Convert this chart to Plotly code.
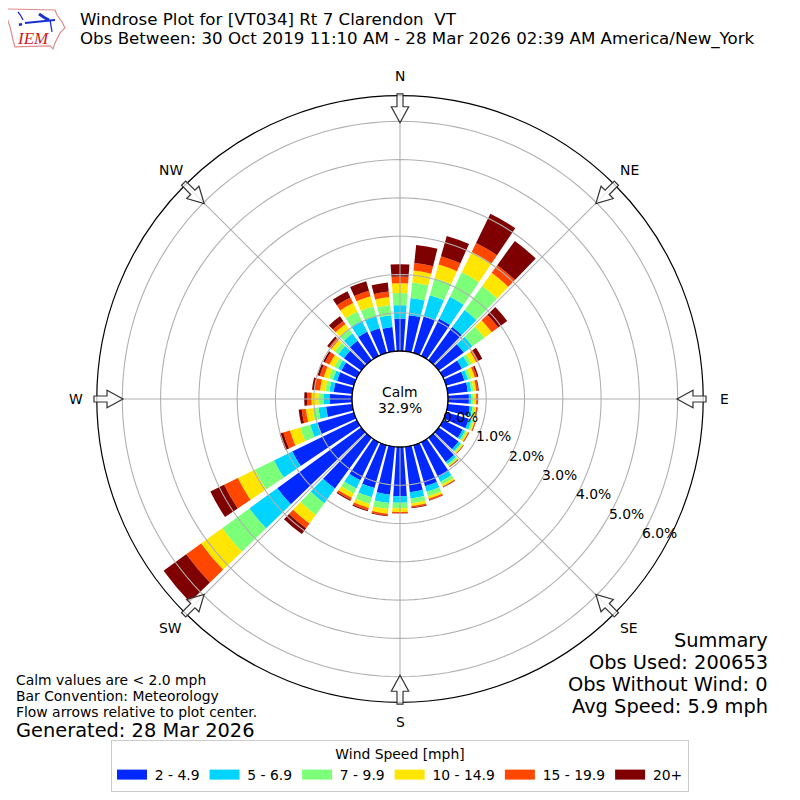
import numpy as np
import plotly.graph_objects as go

directions = list(range(0, 360, 10))
# top of each speed band in percent, stacked from the hole outwards
top_5 = [.85, .95, .99, 1.08, 1.07, .81, .55, .50, .53, .55, .58, .62, .57, .64, .78, 1.02, 1.12, 1.20,
         1.29, 1.26, 1.17, 1.11, 1.64, 2.71, 1.88, .99, .69, .59, .49, .46, .45, .56, .63, .70, .67, .64]
top_7 = [1.20, 1.40, 1.57, 1.72, 1.62, 1.09, .74, .60, .62, .62, .65, .70, .64, .71, .85, 1.15, 1.27, 1.36,
         1.46, 1.48, 1.42, 1.35, 2.11, 3.61, 2.41, 1.19, .89, .75, .60, .57, .55, .74, .86, 1.03, 1.00, .95]
top_10 = [1.52, 1.81, 2.03, 2.43, 2.40, 1.47, .83, .68, .68, .67, .70, .75, .69, .75, .90, 1.24, 1.39, 1.49,
          1.60, 1.64, 1.60, 1.50, 2.49, 4.49, 2.97, 1.46, 1.04, .88, .71, .68, .66, .86, 1.02, 1.29, 1.27, 1.22]
top_15 = [1.77, 2.12, 2.40, 3.02, 2.82, 1.71, .96, .78, .75, .74, .75, .79, .73, .79, .93, 1.29, 1.46, 1.56,
          1.70, 1.76, 1.71, 1.62, 2.77, 5.17, 3.46, 1.74, 1.22, 1.06, .85, .82, .80, .97, 1.17, 1.54, 1.54, 1.43]
top_20 = [1.95, 2.32, 2.63, 3.28, 3.07, 1.92, 1.03, .84, .80, .78, .78, .81, .75, .80, .94, 1.31, 1.50, 1.60,
          1.73, 1.81, 1.77, 1.68, 2.92, 5.65, 3.86, 1.92, 1.33, 1.18, 1.00, .93, .93, 1.04, 1.27, 1.70, 1.69, 1.57]
top_max = [2.27, 2.79, 3.18, 4.13, 3.85, 2.21, 1.14, .88, .82, .79, .79, .82, .76, .81, .95, 1.32, 1.51, 1.62,
           1.74, 1.83, 1.80, 1.71, 3.11, 6.38, 4.26, 2.02, 1.41, 1.25, 1.06, .99, .98, 1.10, 1.42, 1.88, 1.95, 1.81]

speed_labels = ["2 - 4.9", "5 - 6.9", "7 - 9.9", "10 - 14.9", "15 - 19.9", "20+"]
speed_colors = ["#0028ff", "#00d4ff", "#7cff79", "#ffe600", "#ff4700", "#7f0000"]
compass_labels = ["N", "NE", "E", "SE", "S", "SW", "W", "NW"]
compass_angles = [0, 45, 90, 135, 180, 225, 270, 315]
ring_values = [1, 2, 3, 4, 5, 6]
radial_labels = ["0.0%", "1.0%", "2.0%", "3.0%", "4.0%", "5.0%", "6.0%"]
r_max = 6.667
font = "DejaVu Sans"

# the page puts the figure 8px in from the corner, so work in window pixels
size = 784
pad = 8


def px(x, y):
    return (x - pad) / size, 1 - (y - pad) / size


def path(points, close=True):
    s = ""
    for i, (x, y) in enumerate(points):
        fx, fy = px(x, y)
        s += ("M" if i == 0 else "L") + f"{fx:.5f},{fy:.5f} "
    return s + ("Z" if close else "")


def add_text(x, y, text, size, anchor="left", color="black", style="normal", family=font):
    # annotations carry a little padding, take it back
    nudge = {"left": -2, "center": 0, "right": 2}[anchor]
    fx, fy = px(x + nudge, y + 2)
    fig.add_annotation(x=fx, y=fy, xref="paper", yref="paper", text=text, showarrow=False,
                       xanchor=anchor, yanchor="middle", align=anchor,
                       font=dict(family=family, size=size, color=color, style=style))


fig = go.Figure()

tops = [top_5, top_7, top_10, top_15, top_20, top_max]
base = np.zeros(len(directions))
for i in range(6):
    upper = np.array(tops[i])
    fig.add_trace(go.Barpolar(r=upper - base, base=base, theta=directions, width=8,
                              marker=dict(color=speed_colors[i], line=dict(width=0)),
                              showlegend=False, hoverinfo="skip"))
    base = upper

# grid sits on top of the bars in the original
circle = list(range(0, 361, 2))
for v in ring_values:
    fig.add_trace(go.Scatterpolar(r=[v] * len(circle), theta=circle, mode="lines",
                                  line=dict(color="#b0b0b0", width=1.1), showlegend=False, hoverinfo="skip"))
for a in compass_angles:
    fig.add_trace(go.Scatterpolar(r=[0, r_max], theta=[a, a], mode="lines",
                                  line=dict(color="#b0b0b0", width=1.1), showlegend=False, hoverinfo="skip"))
fig.add_trace(go.Scatterpolar(r=[0] * len(circle), theta=circle, mode="lines",
                              line=dict(color="black", width=1.3), showlegend=False, hoverinfo="skip"))

# legend entries only, thin space opens the gap after the swatch
for i in range(6):
    fig.add_trace(go.Scatterpolar(r=[None], theta=[None], mode="lines", name="\u2009" + speed_labels[i],
                                  line=dict(color=speed_colors[i], width=10)))

dom_x0, dom_y1 = px(96, 96)
dom_x1, dom_y0 = px(704, 704)
fig.update_layout(
    width=size, height=size, margin=dict(l=0, r=0, t=0, b=0), paper_bgcolor="white",
    font=dict(family=font, size=13.9, color="black"),
    polar=dict(
        domain=dict(x=[dom_x0, dom_x1], y=[dom_y0, dom_y1]),
        bgcolor="white", hole=0.158, barmode="overlay",
        radialaxis=dict(range=[0, r_max], visible=False, showgrid=False),
        angularaxis=dict(direction="clockwise", rotation=90, showgrid=False, showticklabels=False, ticks="",
                         linecolor="black", linewidth=1.2),
    ),
    legend=dict(orientation="h", x=px(400, 0)[0], xanchor="center", y=px(0, 742)[1], yanchor="top",
                title=dict(text="Wind Speed [mph]", side="top center", font=dict(family=font, size=13.9)),
                bordercolor="#cccccc", borderwidth=1, itemwidth=30, font=dict(family=font, size=13.9)),
)

# flow arrows, pointing at the plot center
for a, label in zip(compass_angles, compass_labels):
    t = np.radians(a)
    ux, uy = np.sin(t), -np.cos(t)
    vx, vy = -uy, ux
    outline = []
    for r, w in [(306, 3), (293, 3), (293, 8.7), (277, 0), (293, -8.7), (293, -3), (306, -3)]:
        outline.append((400 + r * ux + w * vx, 400 + r * uy + w * vy))
    fig.add_shape(type="path", xref="paper", yref="paper", path=path(outline),
                  line=dict(color="#333333", width=1.2), fillcolor="rgba(255,255,255,0.75)")
    add_text(400 + 324 * ux, 398 + 324 * uy, label, 13.9, "center")

add_text(400, 391, "Calm", 13.9, "center")
add_text(400, 407, "32.9%", 13.9, "center")
for i, label in enumerate(radial_labels):
    add_text(460 + 33.3 * i, 416 + 19.4 * i, label, 13.9, "center")

add_text(80, 18, "Windrose Plot for [VT034] Rt 7 Clarendon  VT", 16.67)
add_text(80, 36.7, "Obs Between: 30 Oct 2019 11:10 AM - 28 Mar 2026 02:39 AM America/New_York", 16.67)

add_text(16, 680, "Calm values are &lt; 2.0 mph", 13.9)
add_text(16, 696, "Bar Convention: Meteorology", 13.9)
add_text(16, 712, "Flow arrows relative to plot center.", 13.9)
add_text(16, 730, "Generated: 28 Mar 2026", 19.4)

add_text(768, 640, "Summary", 19.4, "right")
add_text(768, 662, "Obs Used: 200653", 19.4, "right")
add_text(768, 684, "Obs Without Wind: 0", 19.4, "right")
add_text(768, 706, "Avg Speed: 5.9 mph", 19.4, "right")

# IEM logo, redrawn
iowa = [(7, 9), (55, 10), (57, 15), (62, 22), (65, 28), (60, 33), (55, 43), (53, 49), (50, 46), (15, 47), (13, 40),
        (10, 27), (7, 18)]
fig.add_shape(type="path", xref="paper", yref="paper", path=path(iowa), line=dict(color="#e08a8a", width=1.2))
for pts, w in [([(25, 23), (55, 20)], 2), ([(18, 12), (21, 16), (23, 20)], 1.3), ([(39, 14), (45, 18), (49, 20)], 3),
               ([(50, 20), (51, 26), (52, 32)], 1.3), ([(19, 25), (22, 24)], 2.5)]:
    fig.add_shape(type="path", xref="paper", yref="paper", path=path(pts, close=False),
                  line=dict(color="#1a2fd0", width=w))
add_text(17, 37, "IEM", 17, "left", "#d02020", "italic", "Liberation Serif")

fig.write_html("out.html")
